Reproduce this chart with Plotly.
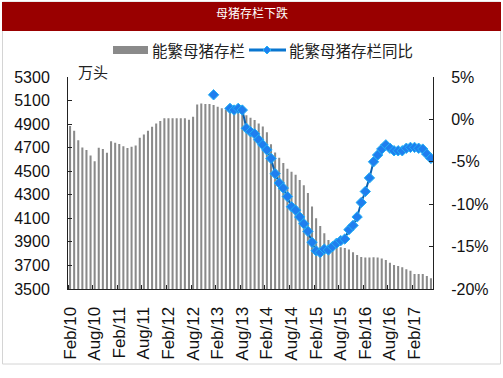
import plotly.graph_objects as go

# ---------------- data ----------------
month_names = ["Jan", "Feb", "Mar", "Apr", "May", "Jun", "Jul", "Aug", "Sep", "Oct", "Nov", "Dec"]
months = []
for yr in range(2010, 2018):
    for m in range(12):
        months.append(f"{month_names[m]}/{str(yr)[2:]}")
months = months[1:1 + 89]  # Feb/10 .. Jun/17

sow_stock = [
    4884, 4844, 4762, 4702, 4680, 4634, 4585, 4700, 4689, 4657,
    4754, 4742, 4731, 4711, 4698, 4708, 4718, 4784, 4812, 4844,
    4878, 4905, 4927, 4949, 4950, 4950, 4950, 4950, 4950, 4937,
    4963, 5067, 5075, 5070, 5070, 5062, 5048, 5034, 5025, 5020,
    5014, 5005, 4991, 4975, 4955, 4935, 4905, 4880, 4830, 4730,
    4660, 4615, 4570, 4520, 4495, 4470, 4425, 4380, 4315, 4200,
    4100, 4035, 3973, 3916, 3874, 3859, 3854, 3848, 3835, 3812,
    3789, 3772, 3768, 3768, 3770, 3768, 3760, 3746, 3723, 3704,
    3695, 3684, 3667, 3655, 3627, 3627, 3627, 3610, 3591,
]

sow_yoy = [None] * 35 + [
    2.9, None, None, None, 1.3, 1.1, 1.3, 1.1, -1.05, -1.45,
    -1.7, -2.4, -3.0, -3.6, -4.6, -6.4, -7.5, -8.1, -9.1, -10.3,
    -10.7, -11.5, -12.3, -13.2, -14.5, -15.5, -15.7, -15.3, -15.4, -15.0,
    -14.6, -14.3, -14.1, -13.0, -12.5, -11.5, -9.8, -8.5, -6.9, -5.0,
    -4.2, -3.5, -3.0, -3.4, -3.7, -3.7, -3.7, -3.4, -3.3, -3.3,
    -3.4, -3.5, -4.1, -4.6,
]

left_ticks = [3500, 3700, 3900, 4100, 4300, 4500, 4700, 4900, 5100, 5300]
right_ticks = [-20, -15, -10, -5, 0, 5]
right_labels = ["-20%", "-15%", "-10%", "-5%", "0%", "5%"]
xlabel_idx = list(range(0, 89, 6))
xlabel_txt = [months[i] for i in xlabel_idx]

title_text = "母猪存栏下跌"
legend1 = "能繁母猪存栏"
legend2 = "能繁母猪存栏同比"
unit_text = "万头"

# ---------------- layout geometry ----------------
W, H = 503, 378
L, R, T, B = 68, 433, 77, 289


def px(xp):
    return (xp - L) / (R - L)


def py(yp):
    return (B - yp) / (B - T)


x_idx = list(range(len(months)))

fig = go.Figure()
fig.add_trace(go.Bar(
    x=x_idx, y=sow_stock, name=legend1,
    marker=dict(color="#8a8a8a", line=dict(width=0)),
    yaxis="y", showlegend=False,
))
fig.add_trace(go.Scatter(
    x=x_idx, y=sow_yoy, name=legend2, mode="lines+markers",
    line=dict(color="#0b5fae", width=2),
    marker=dict(symbol="diamond", size=8, color="#1f7fef",
                line=dict(color="#22b0f5", width=1)),
    connectgaps=False, yaxis="y2", showlegend=False,
))

num_font = dict(family="Liberation Sans, Arial, sans-serif", size=16, color="#111")

shapes = [
    # outer frame
    dict(type="rect", xref="paper", yref="paper", x0=px(2.5), x1=px(500.5),
         y0=py(364), y1=py(2), line=dict(color="#d4d4d4", width=1), layer="below"),
    # title bar
    dict(type="rect", xref="paper", yref="paper", x0=px(2), x1=px(501),
         y0=py(31), y1=py(2), fillcolor="#990000", line=dict(width=0)),
    # legend: bar swatch
    dict(type="rect", xref="paper", yref="paper", x0=px(113), x1=px(148),
         y0=py(54), y1=py(46), fillcolor="#8a8a8a", line=dict(width=0)),
    # legend: line swatch
    dict(type="line", xref="paper", yref="paper", x0=px(249), x1=px(286),
         y0=py(50), y1=py(50), line=dict(color="#0a76d0", width=3)),
    # legend: diamond
    dict(type="path", xref="paper", yref="paper",
         path=f"M {px(263)} {py(50)} L {px(267)} {py(46)} L {px(271)} {py(50)} L {px(267)} {py(54)} Z",
         fillcolor="#1f7fef", line=dict(color="#22b0f5", width=1)),
]

cjk = "Noto Sans CJK SC"
annotations = [
    dict(text=title_text, xref="paper", yref="paper", x=px(251.5), y=py(12.5),
         showarrow=False, xanchor="center", yanchor="middle",
         font=dict(family=cjk, size=12, color="white")),
    dict(text=legend1, xref="paper", yref="paper", x=px(150), y=py(50),
         showarrow=False, xanchor="left", yanchor="middle",
         font=dict(family=cjk, size=15.5, color="#222")),
    dict(text=legend2, xref="paper", yref="paper", x=px(287), y=py(50),
         showarrow=False, xanchor="left", yanchor="middle",
         font=dict(family=cjk, size=15.5, color="#222")),
    dict(text=unit_text, xref="paper", yref="paper", x=px(76), y=py(72),
         showarrow=False, xanchor="left", yanchor="middle",
         font=dict(family=cjk, size=15, color="#222")),
]

fig.update_layout(
    width=W, height=H,
    margin=dict(l=L, r=W - R, t=T, b=H - B, pad=0),
    paper_bgcolor="white", plot_bgcolor="white",
    bargap=0.5,
    showlegend=False,
    hovermode=False,
    xaxis=dict(
        range=[-0.5, len(months) - 0.5],
        tickmode="array", tickvals=xlabel_idx, ticktext=xlabel_txt,
        tickangle=-90, ticks="", showgrid=False, zeroline=False,
        showline=True, linecolor="#222", linewidth=1,
        tickfont=dict(family="Liberation Sans, Arial, sans-serif", size=17, color="#111"),
        ticklabelstandoff=10,
        minor=dict(tick0=-0.5, dtick=6, ticks="inside", ticklen=4,
                   tickcolor="#222", showgrid=False),
    ),
    yaxis=dict(
        range=[3500, 5300], tickmode="array", tickvals=left_ticks,
        ticks="inside", ticklen=4, tickcolor="#222",
        showgrid=False, zeroline=False, showline=True, linecolor="#222", linewidth=1,
        tickfont=num_font, ticklabelstandoff=14,
    ),
    yaxis2=dict(
        range=[-20, 5], overlaying="y", side="right",
        tickmode="array", tickvals=right_ticks, ticktext=right_labels,
        ticks="inside", ticklen=4, tickcolor="#222",
        showgrid=False, zeroline=False, showline=True, linecolor="#222", linewidth=1,
        tickfont=num_font, ticklabelstandoff=14,
    ),
    shapes=shapes,
    annotations=annotations,
)

fig.write_html(
    "out.html",
    config={"displayModeBar": False},
    post_script="document.body.style.margin='0px';document.body.style.padding='0px';",
)
